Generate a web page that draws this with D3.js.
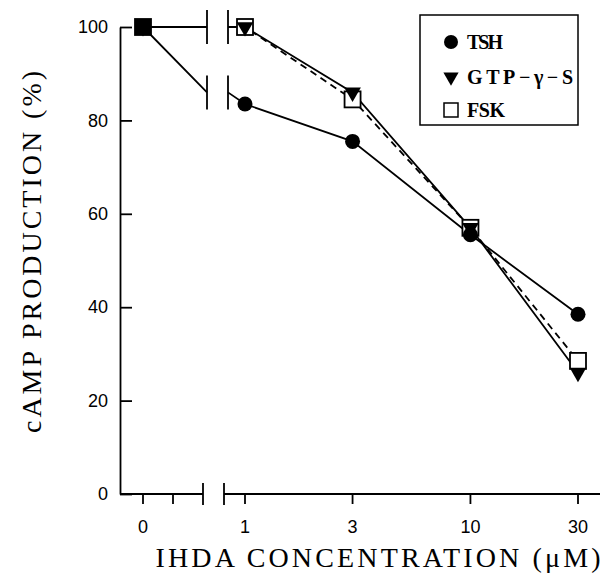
<!DOCTYPE html>
<html>
<head>
<meta charset="utf-8">
<script src="https://cdn.jsdelivr.net/npm/d3@7"></script>
<style>
  body { margin: 0; background: #fff; }
  svg { display: block; }
</style>
</head>
<body>
<svg id="chart" width="604" height="586"></svg>
<script>
// cAMP production vs IHDA concentration
const concentrations = [0, 1, 3, 10, 30];
const concLabels = ["0", "1", "3", "10", "30"];
const tsh = [100, 83.5, 75.5, 55.5, 38.5];
const gtp = [100, 100, 86, 57, 26];
const fsk = [100, 100, 84.5, 57, 28.5];
const tshBreak = 86; // where the TSH line crosses the axis break
const yTicks = [0, 20, 40, 60, 80, 100];
const seriesNames = ["TSH", "GTP\u2212\u03b3\u2212S", "FSK"];

const svg = d3.select("#chart");
const ink = "#000";
const serif = "'Liberation Serif', 'Times New Roman', serif";
const sans = "'Liberation Sans', Arial, sans-serif";

const y = d3.scaleLinear().domain([0, 100]).range([494, 27]);
const xLog = d3.scaleLog().domain([1, 30]).range([245, 578]);
const axisX = 120;
const zeroX = 143;
const plotBreak = [207, 228];
const axisBreak = [203, 224];
const xPos = c => (c === 0 ? zeroX : xLog(c));

// y axis, ticks pointing inwards
svg
  .append("g")
  .attr("transform", `translate(${axisX},0)`)
  .call(d3.axisLeft(y).tickValues(yTicks).tickSize(-12).tickSizeOuter(0).tickPadding(12))
  .call(g => g.selectAll("path, line").attr("stroke", ink).attr("stroke-width", 1.8))
  .call(g =>
    g.selectAll("text").attr("fill", ink).attr("font-family", sans).attr("font-size", 18)
  );

// x axis, broken between 0 and 1
const xAxisY = y(0);
const xAxis = svg.append("g").attr("stroke", ink).attr("stroke-width", 1.8);
xAxis.append("line").attr("x1", axisX).attr("x2", axisBreak[0]).attr("y1", xAxisY).attr("y2", xAxisY);
xAxis.append("line").attr("x1", axisBreak[1]).attr("x2", 600).attr("y1", xAxisY).attr("y2", xAxisY);
axisBreak.forEach(bx => {
  xAxis.append("line").attr("x1", bx).attr("x2", bx).attr("y1", xAxisY - 11).attr("y2", xAxisY + 11);
});

const tickXs = concentrations.map(xPos).concat([(zeroX + axisBreak[0]) / 2]);
xAxis
  .selectAll(".xtick")
  .data(tickXs)
  .enter()
  .append("line")
  .attr("x1", d => d)
  .attr("x2", d => d)
  .attr("y1", xAxisY)
  .attr("y2", xAxisY + 10);

svg
  .selectAll(".xlabel")
  .data(concentrations)
  .enter()
  .append("text")
  .attr("x", d => xPos(d))
  .attr("y", 533)
  .attr("text-anchor", "middle")
  .attr("fill", ink)
  .attr("font-family", sans)
  .attr("font-size", 18)
  .text((d, i) => concLabels[i]);

// Axis titles
svg
  .append("text")
  .attr("x", 378)
  .attr("y", 567)
  .attr("text-anchor", "middle")
  .attr("fill", ink)
  .attr("font-family", serif)
  .attr("font-size", 28)
  .attr("textLength", 445)
  .attr("lengthAdjust", "spacing")
  .text("IHDA CONCENTRATION (\u03bcM)");

svg
  .append("text")
  .attr("transform", "rotate(-90)")
  .attr("x", -252)
  .attr("y", 41)
  .attr("text-anchor", "middle")
  .attr("fill", ink)
  .attr("font-family", serif)
  .attr("font-size", 28)
  .attr("textLength", 362)
  .attr("lengthAdjust", "spacing")
  .text("cAMP PRODUCTION (%)");

// Lines: zero point -> break, then break -> concentration points
const lineGen = d3
  .line()
  .defined(d => d !== null)
  .x(d => d.x)
  .y(d => y(d.v));

const buildPath = (values, breakVal) => [
  { x: xPos(concentrations[0]), v: values[0] },
  { x: plotBreak[0], v: breakVal },
  null,
  { x: plotBreak[1], v: breakVal }
].concat(values.slice(1).map((v, i) => ({ x: xPos(concentrations[i + 1]), v })));

const series = [
  { values: tsh, brk: tshBreak, dash: null },
  { values: gtp, brk: gtp[0], dash: null },
  { values: fsk, brk: fsk[0], dash: "7,5" }
];

const lines = svg.append("g");
series.forEach(s => {
  lines
    .append("path")
    .datum(buildPath(s.values, s.brk))
    .attr("fill", "none")
    .attr("stroke", ink)
    .attr("stroke-width", 1.8)
    .attr("stroke-dasharray", s.dash)
    .attr("d", lineGen);
});

// Break bars on the lines
[tshBreak, gtp[0]].forEach(v => {
  plotBreak.forEach(bx => {
    lines
      .append("line")
      .attr("x1", bx)
      .attr("x2", bx)
      .attr("y1", y(v) - 17)
      .attr("y2", y(v) + 17)
      .attr("stroke", ink)
      .attr("stroke-width", 1.8);
  });
});

// Markers (where all three coincide the symbols merge into a solid block)
const triPath = d3.symbol().type(d3.symbolTriangle).size(120)();
const marks = svg.append("g");
const allSame = i => tsh[i] === gtp[i] && gtp[i] === fsk[i];

marks
  .selectAll(".fsk")
  .data(fsk)
  .enter()
  .append("rect")
  .attr("x", (d, i) => xPos(concentrations[i]) - 8)
  .attr("y", d => y(d) - 8)
  .attr("width", 16)
  .attr("height", 16)
  .attr("fill", (d, i) => (allSame(i) ? ink : "#fff"))
  .attr("stroke", ink)
  .attr("stroke-width", 1.8);

marks
  .selectAll(".tsh")
  .data(tsh)
  .enter()
  .append("circle")
  .attr("cx", (d, i) => xPos(concentrations[i]))
  .attr("cy", d => y(d))
  .attr("r", 7.5)
  .attr("fill", ink);

marks
  .selectAll(".gtp")
  .data(gtp)
  .enter()
  .append("path")
  .attr("d", triPath)
  .attr("transform", (d, i) => `translate(${xPos(concentrations[i])},${y(d)}) rotate(180)`)
  .attr("fill", ink);

// Legend
const legend = svg.append("g").attr("transform", "translate(420,15)");
legend
  .append("rect")
  .attr("width", 158)
  .attr("height", 110)
  .attr("fill", "#fff")
  .attr("stroke", ink)
  .attr("stroke-width", 1.5);

const rowY = [27, 62, 95];
legend.append("circle").attr("cx", 31).attr("cy", rowY[0]).attr("r", 7).attr("fill", ink);
legend
  .append("path")
  .attr("d", d3.symbol().type(d3.symbolTriangle).size(100)())
  .attr("transform", `translate(31,${rowY[1]}) rotate(180)`)
  .attr("fill", ink);
legend
  .append("rect")
  .attr("x", 24)
  .attr("y", rowY[2] - 7)
  .attr("width", 14)
  .attr("height", 14)
  .attr("fill", "#fff")
  .attr("stroke", ink)
  .attr("stroke-width", 1.5);

const legendWidths = [36, 106, 38];
legend
  .selectAll(".legend-text")
  .data(seriesNames)
  .enter()
  .append("text")
  .attr("x", 47)
  .attr("y", (d, i) => rowY[i] + 7)
  .attr("fill", ink)
  .attr("font-family", serif)
  .attr("font-weight", 700)
  .attr("font-size", 20)
  .attr("textLength", (d, i) => legendWidths[i])
  .attr("lengthAdjust", "spacing")
  .text(d => d);
</script>
</body>
</html>
